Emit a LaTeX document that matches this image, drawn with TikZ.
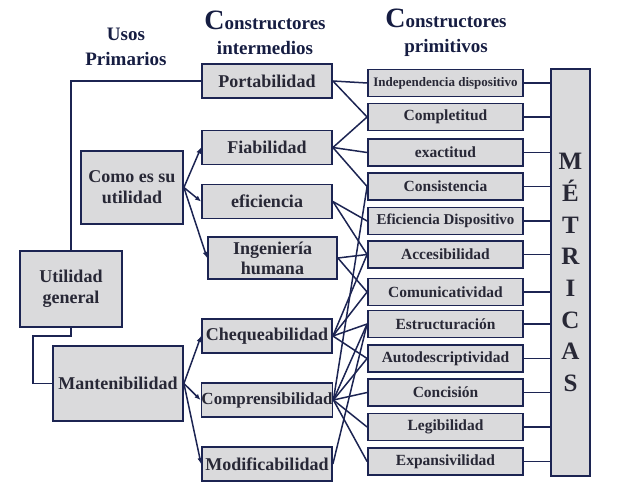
\documentclass[tikz,border=0pt]{standalone}
\usepackage{fontspec}
\setmainfont{Liberation Serif}
\usepackage{tikz}
\usetikzlibrary{
    arrows.meta,
    positioning,
    calc
}
\definecolor{azul}{RGB}{28,36,82}
\definecolor{gris}{RGB}{218,218,220}
\definecolor{texto}{RGB}{40,40,54}
\tikzstyle{caja} = [draw=azul, line width=1.8pt, fill=gris, text=texto, inner sep=0pt, align=center]
\tikzstyle{usos} = [caja, minimum width=102pt, font=\fontsize{18}{21}\selectfont\bfseries]
\tikzstyle{medio} = [caja, minimum width=130pt, minimum height=34pt, font=\fontsize{18}{20}\selectfont\bfseries]
\tikzstyle{prim} = [caja, minimum width=155pt, minimum height=27pt, font=\fontsize{15.5}{17}\selectfont\bfseries]
\tikzstyle{titulo} = [text=azul!80!black, align=center, font=\fontsize{19}{25}\selectfont\bfseries]
\tikzstyle{enlace} = [draw=azul, line width=1.5pt]
\tikzstyle{flecha} = [enlace, -{Latex[length=6pt,width=5pt]}]
\newcommand{\letraC}{{\fontsize{28}{25}\selectfont C}}

\begin{document}
\begin{tikzpicture}[x=1pt,y=-1pt]
\useasboundingbox (0,0) rectangle (622,498);
% titulos de columna
\node[titulo] (tusos) at (126,47) {Usos\\Primarios};
\node[titulo] (tinter) at (265,33) {\letraC onstructores\\intermedios};
\node[titulo] (tprim) at (446,33) {\letraC onstructores\\primitivos};
% usos primarios
\node[usos, minimum height=76pt] (ug) at (71,289) {Utilidad\\general};
\node[usos, minimum height=73pt] (como) at (132,187.5) {Como es su\\utilidad};
\node[usos, minimum width=130pt, minimum height=75pt] (mant) at (118,383.5) {Mantenibilidad};
% constructores intermedios
\node[medio] (port) at (267,81) {Portabilidad};
\node[medio] (fiab) at (267,147.5) {Fiabilidad};
\node[medio] (efic) at (267,201.5) {eficiencia};
\node[medio, minimum width=129pt, minimum height=42pt] (ing) at (272.5,258) {Ingeniería\\humana};
\node[medio] (cheq) at (267,336) {Chequeabilidad};
\node[medio, font=\fontsize{17}{18}\selectfont\bfseries] (comp) at (267,400) {Comprensibilidad};
\node[medio] (modif) at (267,464) {Modificabilidad};
% constructores primitivos
\node[prim, font=\fontsize{13}{15}\selectfont\bfseries] (indep) at (445.5,83) {Independencia dispositivo};
\node[prim] (compl) at (445.5,117) {Completitud};
\node[prim] (exact) at (445.5,152.5) {exactitud};
\node[prim] (consis) at (445.5,186.5) {Consistencia};
\node[prim, font=\fontsize{15}{17}\selectfont\bfseries] (efdisp) at (445.5,221) {Eficiencia Dispositivo};
\node[prim] (acces) at (445.5,254.5) {Accesibilidad};
\node[prim] (comun) at (445.5,292) {Comunicatividad};
\node[prim] (estruc) at (445.5,324) {Estructuración};
\node[prim] (autod) at (445.5,358.5) {Autodescriptividad};
\node[prim] (conc) at (445.5,392.5) {Concisión};
\node[prim] (legib) at (445.5,427) {Legibilidad};
\node[prim] (expan) at (445.5,461.5) {Expansivilidad};
% metricas
\node[caja, minimum width=39pt, minimum height=407pt, font=\fontsize{25}{31.7}\selectfont\bfseries] (met) at (570.5,272.5) {M\\É\\T\\R\\I\\C\\A\\S};
% usos -> intermedios
\draw[enlace] (ug.north) |- (port.west);
\coordinate (codo) at (33,336);
\draw[enlace] (ug.south) |- (codo) |- (mant.west);
\foreach \d in {fiab,efic,ing}
  \draw[flecha] (como.east) -- (\d.west);
\foreach \d in {cheq,comp,modif}
  \draw[flecha] (mant.east) -- (\d.west);
% intermedios -> primitivos
\foreach \a/\b in {port/indep, port/compl, fiab/compl, fiab/exact, fiab/consis,
    efic/efdisp, efic/acces, ing/acces, ing/comun,
    cheq/acces, cheq/comun, cheq/estruc, cheq/autod,
    comp/consis, comp/estruc, comp/autod, comp/conc, comp/legib, comp/expan,
    modif/estruc}
  \draw[enlace] (\a.east) -- (\b.west);
% primitivos -> metricas
\foreach \b in {indep,compl,exact,consis,efdisp,acces,comun,estruc,autod,conc,legib,expan}
  \draw[enlace] (\b.east) -- (\b.east -| met.west);
\end{tikzpicture}
\end{document}
